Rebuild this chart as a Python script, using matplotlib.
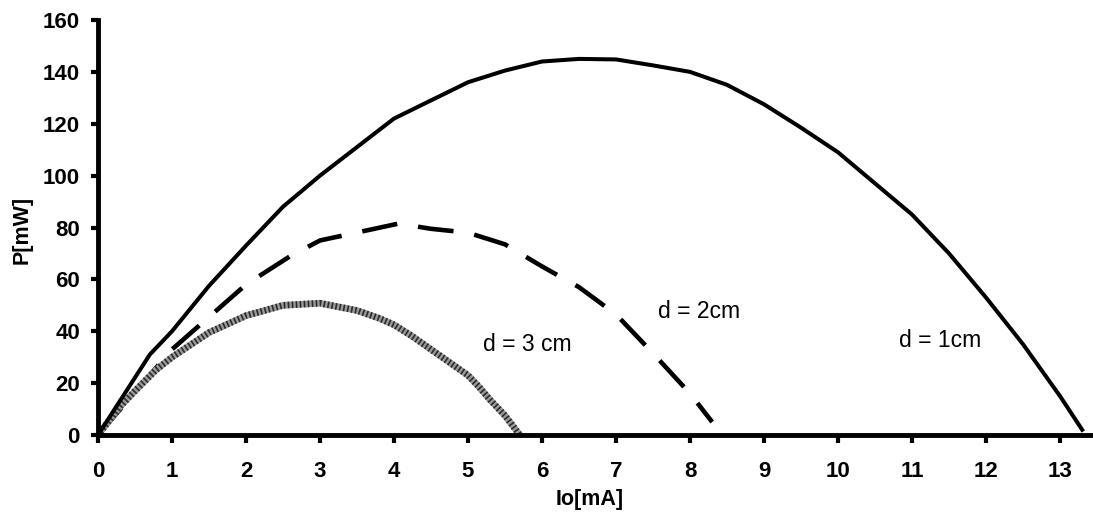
import matplotlib
matplotlib.use("Agg")
import matplotlib.pyplot as plt

# d = 1 cm (solid)
io_1cm = [0, 0.7, 1, 1.5, 2, 2.5, 3, 3.5, 4, 4.5, 5, 5.5, 6, 6.5, 7, 7.5, 8, 8.5, 9, 9.5,
          10, 10.5, 11, 11.5, 12, 12.5, 13, 13.3]
p_1cm = [0, 31, 40, 57.5, 73, 88, 100, 111, 122, 129, 136, 140.5, 144, 145, 144.8, 142.5,
         140, 135, 127.5, 118.5, 109, 97, 85, 70, 53, 35, 15, 2]

# d = 2 cm (dashed)
io_2cm = [0, 1, 1.4, 2, 2.6, 3, 4.06, 4.5, 5, 5.5, 6, 6.5, 7, 7.5, 8, 8.3]
p_2cm = [0, 33, 43, 58, 69, 75, 81.5, 79.5, 78, 73.5, 65, 57, 46.5, 31.5, 16, 5]

# d = 3 cm (grey hatched)
io_3cm = [0, 0.3, 0.5, 0.78, 1, 1.5, 2, 2.5, 3, 3.5, 3.8, 4.0, 4.25, 4.5, 4.75, 5.0, 5.15,
          5.3, 5.5, 5.7]
p_3cm = [0, 11, 17, 25, 30, 39.5, 46, 50, 50.8, 48, 45, 42.5, 38, 33, 28, 23, 18.5,
         13.5, 7.5, 0]

x_ticks = list(range(0, 14))
y_ticks = list(range(0, 161, 20))
labels = ["d = 1cm", "d = 2cm", "d = 3 cm"]
label_pos = [(11.38, 36.3), (8.12, 47.5), (5.8, 34.7)]

plt.rcParams['font.family'] = ['Liberation Sans', 'DejaVu Sans']

W, H = 1093, 524
fig = plt.figure(figsize=(W / 100, H / 100), dpi=100)
ax = fig.add_axes([98 / W, 89 / H, (W - 98) / W, (435 - 20) / H])

ax.plot(io_2cm, p_2cm, color='black', lw=3.3, dashes=(7.8, 4.6), solid_capstyle='butt',
        dash_capstyle='butt')
ax.plot(io_3cm, p_3cm, color='#9a9a9a', lw=4.8, solid_capstyle='butt')
ax.plot(io_3cm, p_3cm, color='#2a2a2a', lw=4.8, dashes=(0.25, 0.35), dash_capstyle='butt')
ax.plot(io_1cm, p_1cm, color='black', lw=2.9)

for txt, (xx, yy) in zip(labels, label_pos):
    ax.text(xx, yy, txt, ha='center', va='center', fontsize=16.5)

ax.set_xlim(0, (W - 98) / 74.0)
ax.set_ylim(0, 160)
ax.set_xticks(x_ticks)
ax.set_yticks(y_ticks)
for s in ['top', 'right']:
    ax.spines[s].set_visible(False)
for s in ['left', 'bottom']:
    ax.spines[s].set_linewidth(3.5)
ax.tick_params(axis='both', direction='out', width=3, labelsize=16)
ax.tick_params(axis='y', length=5, pad=8)
ax.tick_params(axis='x', length=6, pad=13)
for lab in ax.get_xticklabels() + ax.get_yticklabels():
    lab.set_fontweight('bold')

fig.text(590 / W, 1 - 500 / H, "Io[mA]", ha='center', va='center', fontsize=15.5,
         fontweight='bold')
fig.text(22 / W, 1 - 230 / H, "P[mW]", ha='center', va='center', fontsize=15.5,
         fontweight='bold', rotation=90)

fig.savefig("out.png", dpi=100)
